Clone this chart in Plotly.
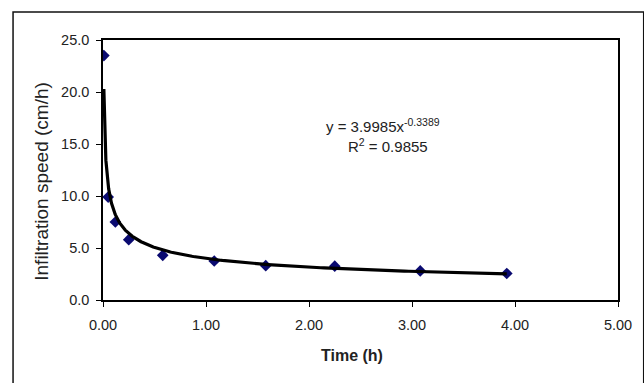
import numpy as np
import plotly.graph_objects as go

# Data
time_h = [0.0083, 0.05, 0.12, 0.25, 0.58, 1.08, 1.58, 2.25, 3.08, 3.92]
speed = [23.5, 9.9, 7.5, 5.8, 4.3, 3.75, 3.3, 3.25, 2.8, 2.55]

# Power trendline coefficients shown on the chart
fit_a = 3.9985
fit_b = -0.3389
r_squared = 0.9855

x_ticks = [0, 1, 2, 3, 4, 5]
y_ticks = [0, 5, 10, 15, 20, 25]

fx = np.geomspace(min(time_h), max(time_h), 400)
fy = fit_a * fx ** fit_b

FONT = "Liberation Sans, Arial, sans-serif"
TXT = "#222222"

L, R, T, B = 103, 20, 40, 83
W, H = 644, 383
pw, ph = W - L - R, H - T - B


def px(xp):
    return (xp - L) / pw


def py(yp):
    return 1 - (yp - T) / ph


fig = go.Figure()
fig.add_trace(go.Scatter(
    x=time_h, y=speed, mode="markers",
    marker=dict(symbol="diamond", size=9, color="#0a0a70",
                line=dict(width=0)),
    showlegend=False, hoverinfo="skip"))
fig.add_trace(go.Scatter(
    x=fx, y=fy, mode="lines",
    line=dict(color="black", width=3.2),
    showlegend=False, hoverinfo="skip"))

fig.update_layout(
    width=W, height=H,
    margin=dict(l=L, r=R, t=T, b=B),
    paper_bgcolor="white", plot_bgcolor="white",
    font=dict(family=FONT, size=14, color=TXT),
    xaxis=dict(range=[0, 5], tickvals=x_ticks,
               ticktext=[f"{v:.2f}" for v in x_ticks],
               showline=True, linecolor="black", linewidth=1.5, mirror=True,
               ticks="outside", ticklen=5, tickwidth=1.2, tickcolor="black",
               showgrid=False, zeroline=False, ticklabelstandoff=6,
               tickfont=dict(family=FONT, size=14.5, color=TXT)),
    yaxis=dict(range=[0, 25], tickvals=y_ticks,
               ticktext=[f"{v:.1f}" for v in y_ticks],
               showline=True, linecolor="black", linewidth=1.5, mirror=True,
               ticks="outside", ticklen=5, tickwidth=1.2, tickcolor="black",
               showgrid=False, zeroline=False, ticklabelstandoff=4,
               tickfont=dict(family=FONT, size=14.5, color=TXT)),
)

# axis titles
fig.add_annotation(
    x=px(355), y=py(355), xref="paper", yref="paper", showarrow=False,
    xanchor="center", yanchor="middle",
    text="<b>Time (h)</b>", font=dict(family=FONT, size=16, color=TXT))
fig.add_annotation(
    x=px(40), y=py(181), xref="paper", yref="paper", showarrow=False,
    xanchor="center", yanchor="middle",
    textangle=-90, text="Infiltration speed (cm/h)",
    font=dict(family=FONT, size=19, color=TXT))

# trendline labels
fig.add_annotation(
    x=px(386), y=py(126), xref="paper", yref="paper", showarrow=False,
    xanchor="center", yanchor="middle",
    text=f"y = {fit_a:.4f}x<sup>{fit_b:.4f}</sup>",
    font=dict(family=FONT, size=15, color=TXT))
fig.add_annotation(
    x=px(391), y=py(145), xref="paper", yref="paper", showarrow=False,
    xanchor="center", yanchor="middle",
    text=f"R<sup>2</sup> = {r_squared:.4f}",
    font=dict(family=FONT, size=15, color=TXT))

# outer chart frame
fig.add_shape(type="rect", xref="paper", yref="paper",
              x0=px(12), x1=px(650), y0=py(390), y1=py(12),
              line=dict(color="#111111", width=1.5), layer="below")

fig.write_html("out.html")
